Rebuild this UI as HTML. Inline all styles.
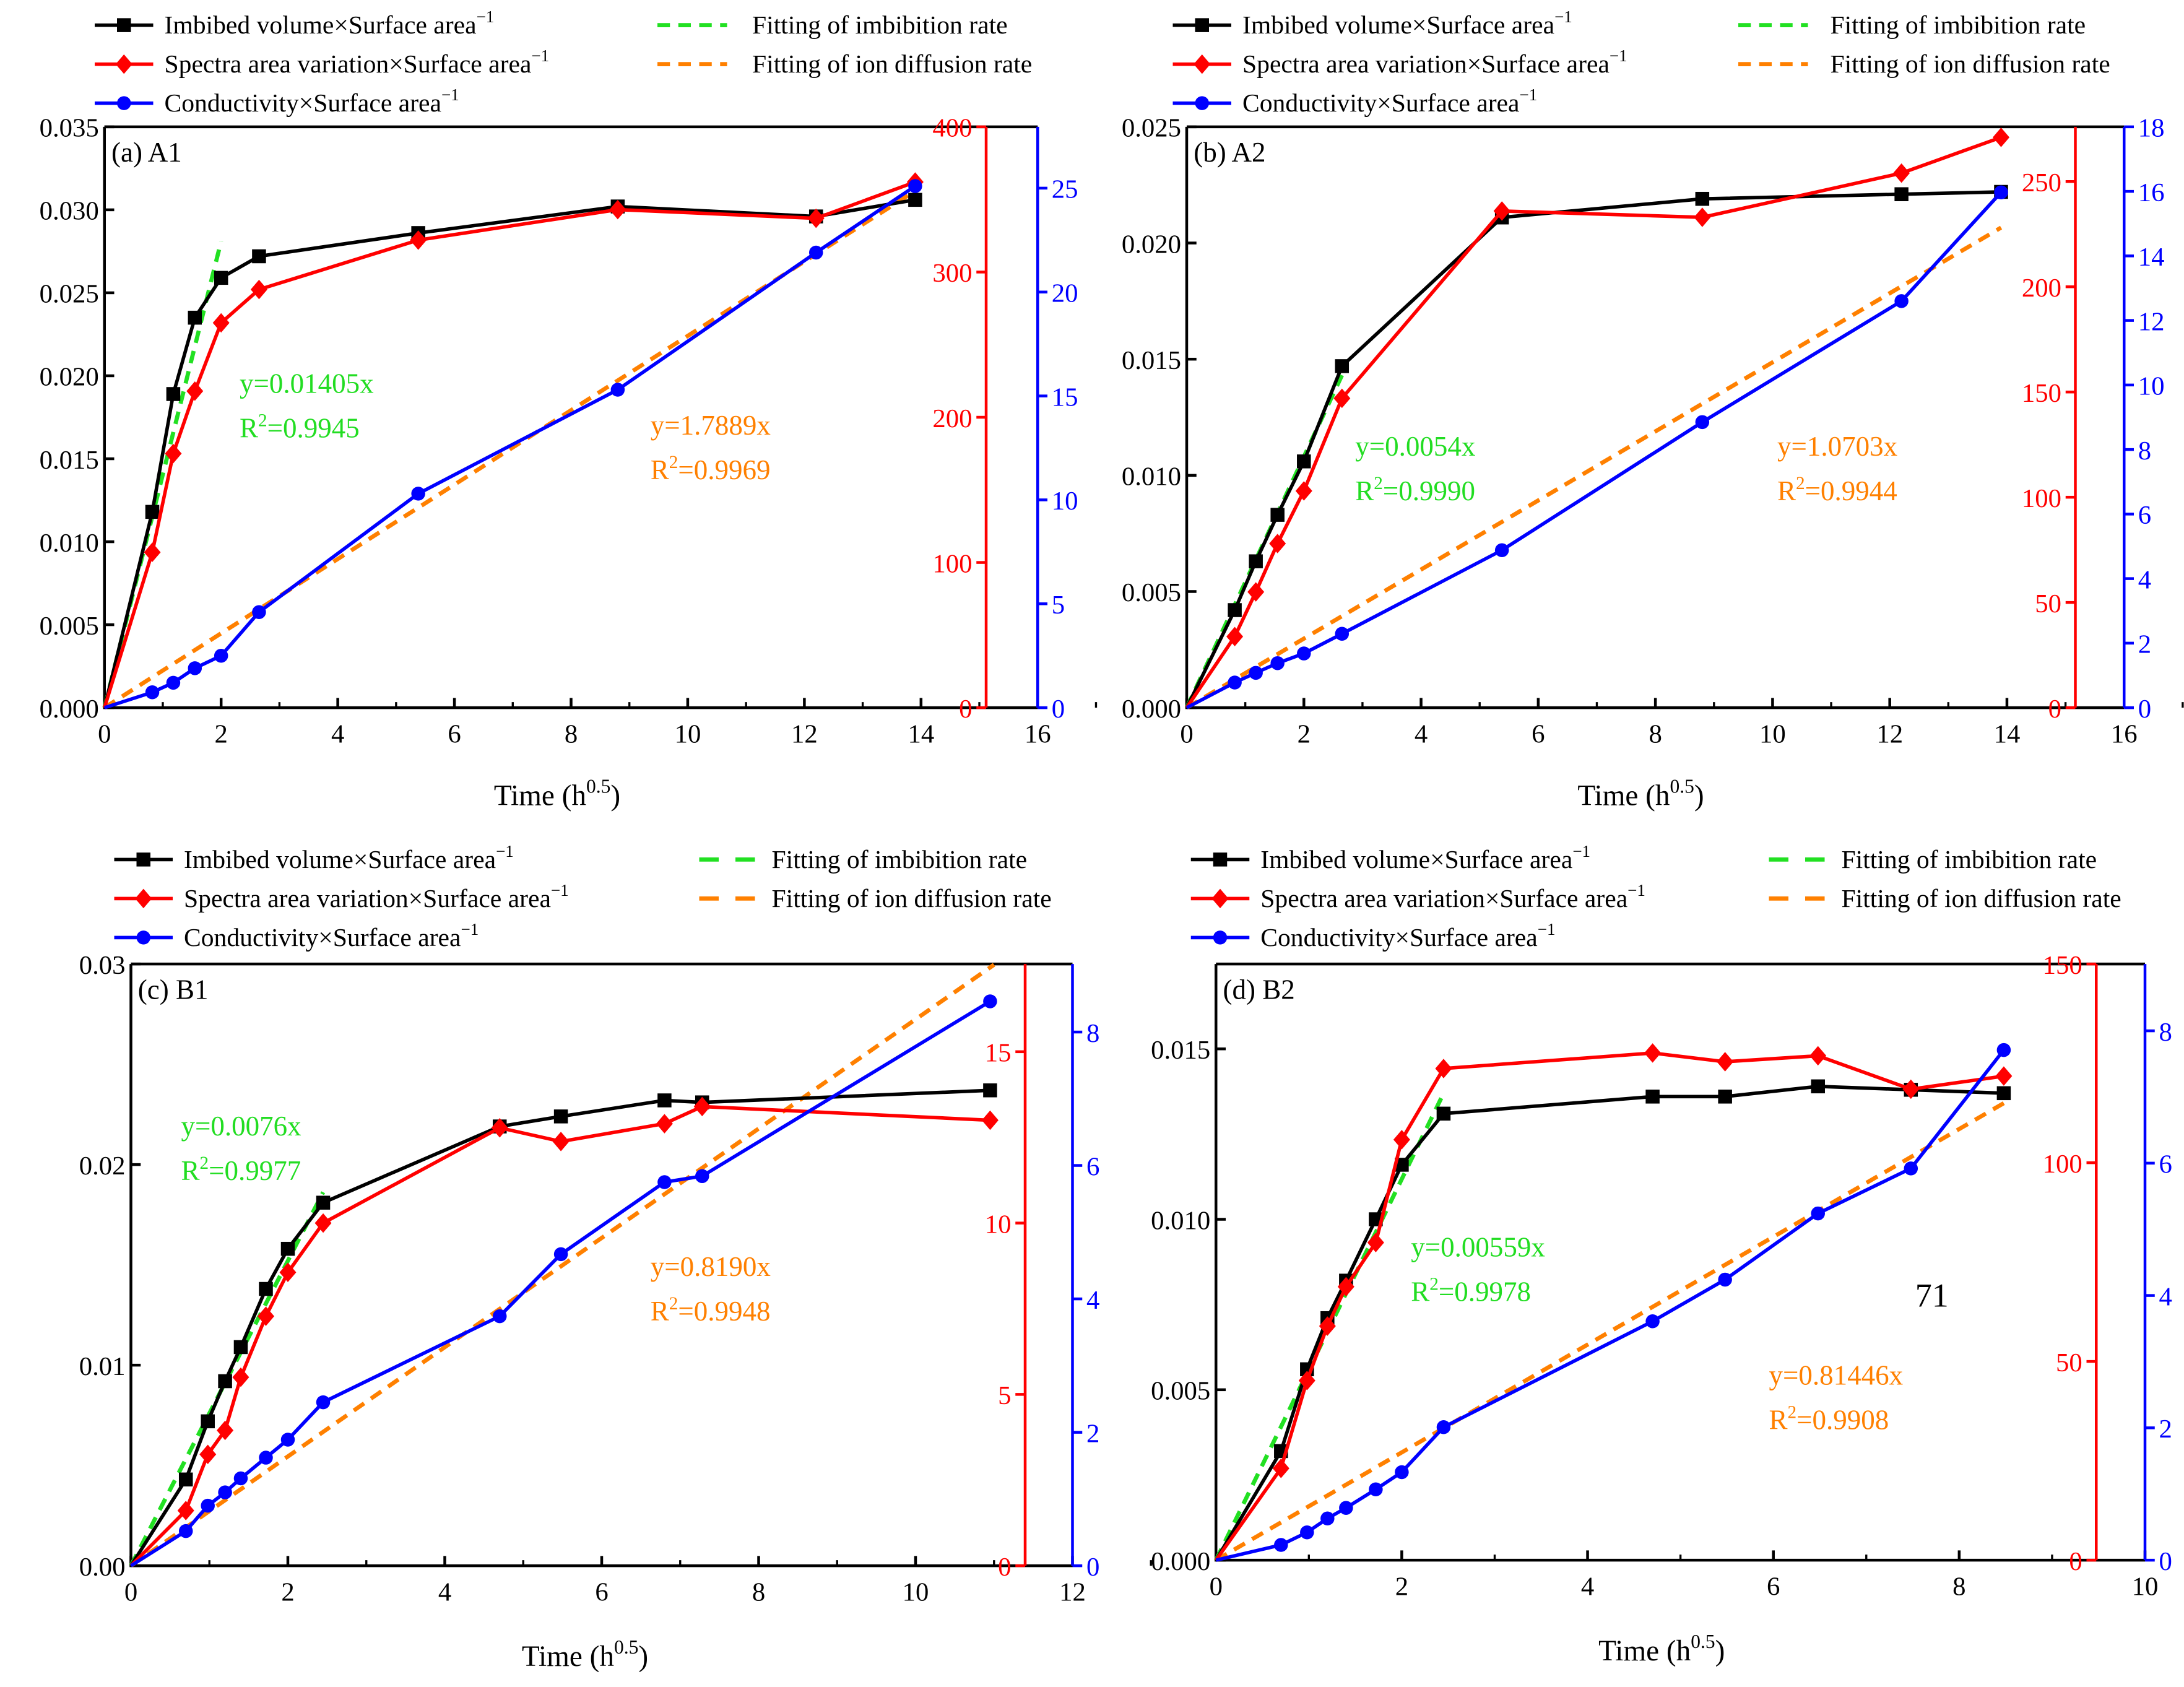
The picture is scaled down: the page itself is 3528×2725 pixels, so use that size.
<!DOCTYPE html>
<html><head><meta charset="utf-8"><style>
html,body{margin:0;padding:0;background:#fff}
svg{display:block}
text{font-family:"Liberation Serif",serif}
</style></head><body>
<svg id="c" width="3528" height="2725" viewBox="0 0 1568 1211" xmlns="http://www.w3.org/2000/svg"></svg>
<script>
// ---------- Panel (a) A1 ----------
const aX = [0,0.82,1.18,1.55,2,2.65,5.38,8.8,12.2,13.9];
const aBlack = [0,0.0118,0.0189,0.0235,0.0259,0.0272,0.0286,0.0302,0.0296,0.0306];
const aRed = [0,107,175,218,265,288,322,343,337,362];
const aBlue = [0,0.74,1.2,1.9,2.5,4.6,10.3,15.3,21.9,25.1];
const aGreenSlope = 0.01405, aGreenEnd = 2;
const aOrangeSlope = 1.7889, aOrangeEnd = 13.9;
// ---------- Panel (b) A2 ----------
const bX = [0,0.82,1.18,1.55,2,2.65,5.38,8.8,12.2,13.9];
const bBlack = [0,0.0042,0.0063,0.0083,0.0106,0.0147,0.0211,0.0219,0.0221,0.0222];
const bRed = [0,33.8,55,78,103,147,236,233,254,271];
const bBlue = [0,0.78,1.08,1.38,1.68,2.29,4.88,8.85,12.6,15.97];
const bGreenSlope = 0.0054, bGreenEnd = 2.65;
const bOrangeSlope = 1.0703, bOrangeEnd = 13.9;
// ---------- Panel (c) B1 ----------
const cX = [0,0.7,0.98,1.2,1.4,1.72,2,2.45,4.7,5.48,6.8,7.28,10.95];
const cBlack = [0,0.0043,0.0072,0.0092,0.0109,0.0138,0.0158,0.0181,0.0219,0.0224,0.0232,0.0231,0.0237];
const cRed = [0,1.61,3.25,3.95,5.50,7.28,8.56,10.0,12.78,12.38,12.9,13.4,13.0];
const cBlue = [0,0.52,0.90,1.10,1.31,1.62,1.89,2.45,3.74,4.67,5.75,5.84,8.46];
const cGreenSlope = 0.0076, cGreenEnd = 2.45;
const cOrangeSlope = 0.8190, cOrangeEnd = 11;
// ---------- Panel (d) B2 ----------
const dX = [0,0.7,0.98,1.2,1.4,1.72,2,2.45,4.7,5.48,6.48,7.48,8.48];
const dBlack = [0,0.0032,0.0056,0.0071,0.0082,0.0100,0.0116,0.0131,0.0136,0.0136,0.0139,0.0138,0.0137];
const dRed = [0,23.1,45.2,58.9,68.8,79.9,105.8,123.7,127.6,125.4,126.9,118.5,121.8];
const dBlue = [0,0.23,0.42,0.63,0.79,1.07,1.33,2.01,3.61,4.24,5.24,5.92,7.71];
const dGreenSlope = 0.00559, dGreenEnd = 2.45;
const dOrangeSlope = 0.81446, dOrangeEnd = 8.48;

const aLeftTicks=[0,0.005,0.01,0.015,0.02,0.025,0.03,0.035], aRedTicks=[0,100,200,300,400], aBlueTicks=[0,5,10,15,20,25];
const bLeftTicks=[0,0.005,0.01,0.015,0.02,0.025], bRedTicks=[0,50,100,150,200,250], bBlueTicks=[0,2,4,6,8,10,12,14,16,18];
const cLeftTicks=[0,0.01,0.02,0.03], cRedTicks=[0,5,10,15], cBlueTicks=[0,2,4,6,8];
const dLeftTicks=[0,0.005,0.01,0.015], dRedTicks=[0,50,100,150], dBlueTicks=[0,2,4,6,8];

const svg=document.getElementById('c');
const NS='http://www.w3.org/2000/svg';
function mk(tag,attrs,parent){const e=document.createElementNS(NS,tag);for(const k in attrs)e.setAttribute(k,attrs[k]);(parent||svg).appendChild(e);return e;}
function txt(s,x,y,attrs,parent){const e=mk('text',Object.assign({x:x,y:y,'font-size':19},attrs),parent);e.textContent=s;return e;}

function panel(P){
  const g=mk('g',{});
  
  
  const sx=v=>P.L+(v/P.xmax)*(P.BX-P.L);
  const sy=v=>P.Bot-(v/P.ymax)*(P.Bot-P.T);
  const sr=v=>P.Bot-(v/P.rmax)*(P.Bot-P.T);
  const sb=v=>P.Bot-(v/P.bmax)*(P.Bot-P.T);
  const fr=mk('path',{d:`M${P.L},${P.T}H${P.BX}M${P.L},${P.T}V${P.Bot}H${P.BX}`,stroke:'#000','stroke-width':2,fill:'none'},g);
  
  
  for(let v=0;v<=P.xmax;v+=2){
    mk('line',{x1:sx(v),x2:sx(v),y1:P.Bot,y2:P.Bot-7,stroke:'#000','stroke-width':2},g);
    mk('line',{x1:sx(v+1),x2:sx(v+1),y1:P.Bot,y2:P.Bot-4,stroke:'#000','stroke-width':1.5},g);
    const t=txt(String(v),sx(v),P.Bot+25,{'text-anchor':'middle'},g);
    
    
  }
  const xl=txt('Time (h',P.xlx-12,P.xly,{'font-size':21,'text-anchor':'middle'},g);
  const sup=mk('tspan',{dy:-9,'font-size':14},xl);sup.textContent='0.5';
  const cl=mk('tspan',{dy:9,'font-size':21},xl);cl.textContent=')';
  
  
  P.lt.forEach(v=>{
    mk('line',{x1:P.L,x2:P.L+7,y1:sy(v),y2:sy(v),stroke:'#000','stroke-width':2},g);
    const t=txt(v.toFixed(P.dec),P.L-4,sy(v)+7,{'text-anchor':'end'},g);
    
    
  });
  const ra=mk('line',{x1:P.RX,x2:P.RX,y1:P.T,y2:P.Bot,stroke:'#f00','stroke-width':2},g);
  
  
  P.rt.forEach(v=>{
    mk('line',{x1:P.RX,x2:P.RX-7,y1:sr(v),y2:sr(v),stroke:'#f00','stroke-width':2},g);
    const t=txt(String(v),P.RX-10,sr(v)+7,{'text-anchor':'end',fill:'#f00'},g);
    
    
  });
  const ba=mk('line',{x1:P.BX,x2:P.BX,y1:P.T,y2:P.Bot,stroke:'#00f','stroke-width':2},g);
  
  
  P.bt.forEach(v=>{
    mk('line',{x1:P.BX,x2:P.BX+7,y1:sb(v),y2:sb(v),stroke:'#00f','stroke-width':2},g);
    const t=txt(String(v),P.BX+10,sb(v)+7,{fill:'#00f'},g);
    
    
  });
  const gf=mk('line',{x1:sx(0),y1:sy(0),x2:sx(P.ge),y2:sy(P.gs*P.ge),stroke:'#22e022','stroke-width':3,'stroke-dasharray':'9,6'},g);
  
  
  const of=mk('line',{x1:sx(0),y1:sb(0),x2:sx(P.oe),y2:sb(P.os*P.oe),stroke:'#ff8000','stroke-width':3,'stroke-dasharray':'9,6'},g);
  
  
  function series(ys,scale,color,shape,name){
    const pts=P.x.map((x,i)=>sx(x)+','+scale(ys[i])).join(' ');
    const l=mk('polyline',{points:pts,fill:'none',stroke:color,'stroke-width':2.5},g);
    
    
    P.x.forEach((x,i)=>{
      if(i===0)return;
      const cx=sx(x),cy=scale(ys[i]);let m;
      if(shape==='sq')m=mk('rect',{x:cx-5,y:cy-5,width:10,height:10,fill:color},g);
      else if(shape==='dia')m=mk('polygon',{points:`${cx},${cy-7} ${cx+6},${cy} ${cx},${cy+7} ${cx-6},${cy}`,fill:color},g);
      else m=mk('circle',{cx:cx,cy:cy,r:5,fill:color},g);
      
      
    });
  }
  series(P.black,sy,'#000','sq','imbibed-volume');
  series(P.red,sr,'#f00','dia','spectra-area');
  series(P.blue,sb,'#00f','circ','conductivity');
  function ann(a,b,x,y,color,name){
    const t1=txt(a,x,y,{fill:color,'font-size':20},g);
    
    
    const t2=txt('R',x,y+32,{fill:color,'font-size':20},g);
    const s=mk('tspan',{dy:-8,'font-size':13},t2);s.textContent='2';
    const r=mk('tspan',{dy:8,'font-size':20},t2);r.textContent='='+b;
    
    
  }
  ann(P.ga[0],P.ga[1],P.ga[2],P.ga[3],'#22dd22','imbibition-fit');
  ann(P.oa[0],P.oa[1],P.oa[2],P.oa[3],'#ff8000','diffusion-fit');
  const pl=txt(P.label,P.L+5,P.T+25,{'font-size':20},g);
  
  
  const L=P.leg;
  function legLine(x,y,color,shape,label,name,dash){
    const lg=mk('g',{},g);
    
    
    mk('line',{x1:x,x2:x+(dash?50:42),y1:y,y2:y,stroke:color,'stroke-width':dash?3:2.5,'stroke-dasharray':dash?dash:'none'},lg);
    const cx=x+21;
    if(shape==='sq')mk('rect',{x:cx-5,y:y-5,width:10,height:10,fill:color},lg);
    if(shape==='dia')mk('polygon',{points:`${cx},${y-7} ${cx+6},${y} ${cx},${y+7} ${cx-6},${y}`,fill:color},lg);
    if(shape==='circ')mk('circle',{cx:cx,cy:y,r:5,fill:color},lg);
    const t=txt(label,x+(dash?L.dtx:50),y+6,{'font-size':18.5},lg);
    if(!dash){const s=mk('tspan',{dy:-8,'font-size':12},t);s.textContent='\u22121';}
  }
  legLine(L.x,L.y,'#000','sq','Imbibed volume\u00d7Surface area','imbibed');
  legLine(L.x,L.y+28,'#f00','dia','Spectra area variation\u00d7Surface area','spectra');
  legLine(L.x,L.y+56,'#00f','circ','Conductivity\u00d7Surface area','conductivity');
  legLine(L.dx,L.y,'#22e022','','Fitting of imbibition rate','imbibition-fit',L.dash);
  legLine(L.dx,L.y+28,'#ff8000','','Fitting of ion diffusion rate','diffusion-fit',L.dash);
}

panel({id:'a',L:75,RX:708,BX:745,T:91,Bot:508,xmax:16,ymax:0.035,rmax:400,bmax:27.95,dec:3,
  lt:aLeftTicks,rt:aRedTicks,bt:aBlueTicks,x:aX,black:aBlack,red:aRed,blue:aBlue,
  gs:aGreenSlope,ge:aGreenEnd,os:aOrangeSlope,oe:aOrangeEnd,
  ga:['y=0.01405x','0.9945',172,282],oa:['y=1.7889x','0.9969',467,312],label:'(a) A1',xlx:412,xly:578,
  leg:{x:68,y:18,dx:472,dtx:68,dash:'9,6'}});
panel({id:'b',L:852,RX:1490,BX:1525,T:91,Bot:508,xmax:16,ymax:0.025,rmax:276,bmax:18,dec:3,
  lt:bLeftTicks,rt:bRedTicks,bt:bBlueTicks,x:bX,black:bBlack,red:bRed,blue:bBlue,
  gs:bGreenSlope,ge:bGreenEnd,os:bOrangeSlope,oe:bOrangeEnd,
  ga:['y=0.0054x','0.9990',973,327],oa:['y=1.0703x','0.9944',1276,327],label:'(b) A2',xlx:1190,xly:578,
  leg:{x:842,y:18,dx:1248,dtx:66,dash:'9,6'}});
panel({id:'c',L:94,RX:736,BX:770,T:692,Bot:1124,xmax:12,ymax:0.03,rmax:17.56,bmax:9.02,dec:2,
  lt:cLeftTicks,rt:cRedTicks,bt:cBlueTicks,x:cX,black:cBlack,red:cRed,blue:cBlue,
  gs:cGreenSlope,ge:cGreenEnd,os:cOrangeSlope,oe:cOrangeEnd,
  ga:['y=0.0076x','0.9977',130,815],oa:['y=0.8190x','0.9948',467,916],label:'(c) B1',xlx:432,xly:1196,
  leg:{x:82,y:617,dx:502,dtx:52,dash:'14,12'}});
panel({id:'d',L:873,RX:1505,BX:1540,T:692,Bot:1120,xmax:10,ymax:0.01749,rmax:150,bmax:9.01,dec:3,
  lt:dLeftTicks,rt:dRedTicks,bt:dBlueTicks,x:dX,black:dBlack,red:dRed,blue:dBlue,
  gs:dGreenSlope,ge:dGreenEnd,os:dOrangeSlope,oe:dOrangeEnd,
  ga:['y=0.00559x','0.9978',1013,902],oa:['y=0.81446x','0.9908',1270,994],label:'(d) B2',xlx:1205,xly:1192,
  leg:{x:855,y:617,dx:1270,dtx:52,dash:'14,12'}});
const n=txt('71',1375,938,{'font-size':24,'font-family':'Liberation Sans, sans-serif'});


</script>
</body></html>
